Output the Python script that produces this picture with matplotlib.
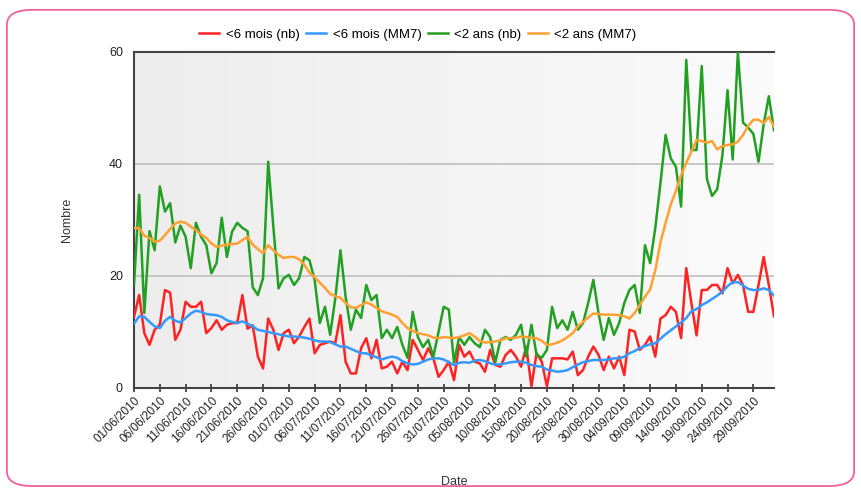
import numpy as np
import pandas as pd
import matplotlib
matplotlib.use("Agg")
import matplotlib.pyplot as plt
from matplotlib.patches import FancyBboxPatch
from matplotlib.colors import LinearSegmentedColormap

plt.rcParams['font.family'] = ['Liberation Sans', 'DejaVu Sans']

# daily series, 01/06/2010 -> 03/10/2010
dates = pd.date_range("2010-06-01", "2010-10-03", freq="D")

moins6_nb = [
    12.7, 16.6, 9.8, 7.7, 10.4, 11.3, 17.5, 17, 8.6, 10.4, 15.4, 14.5, 14.5, 15.4, 9.8, 10.7, 12.1, 10.4, 11.3, 11.6,
    11.6, 16.6, 10.6, 11.2, 5.6, 3.5, 12.4, 10.4, 6.8, 9.8, 10.4, 8, 9.2, 10.9, 12.4, 6.2, 7.7, 8, 8.3, 8, 13, 4.7,
    2.6, 2.6, 7.1, 8.9, 5.3, 8.6, 3.5, 3.8, 4.7, 2.6, 4.7, 3.2, 8.6, 6.8, 5, 7.1, 5.3, 2, 3.2, 4.7, 1.4,
    7.7, 5.6, 6.5, 4.7, 4.4, 2.9, 6.8, 4.1, 3.8, 5.9, 6.8, 5.6, 3.8, 7.4, 0.3, 6.2, 4.7, 0.3, 5.3, 5.3,
    5.3, 5.1, 6.5, 2.3, 3.2, 5.6, 7.4, 5.9, 3.2, 5.6, 3.5, 5.6, 2.3, 10.4, 10.1, 6.8, 7.7, 9.2, 5.6, 12.4, 13,
    14.5, 13.6, 8.9, 21.4, 15.1, 9.4, 17.5, 17.5, 18.4, 18.4, 16.9, 21.4, 18.7, 20.2, 18.4, 13.6, 13.6, 18.4,
    23.4, 18.4, 12.8,
]

moins6_mm7 = [
    11.5, 12.8, 12.7, 11.8, 11, 10.7, 12, 12.7, 12, 11.7, 12.5, 13.3, 13.8, 13.6, 13.2, 13.1, 13, 12.7, 12.1, 11.8,
    11.6, 11.9, 11.5, 11, 10.4, 10.2, 10.0, 9.8, 9.6, 9.4, 9.2, 9.2, 9.1, 9.0, 8.8, 8.5, 8.3, 8.3, 8.2, 7.8, 7.4,
    7.4, 7.0, 6.6, 6.2, 6.2, 5.8, 5.5, 5.1, 5.4, 5.6, 5.4, 4.8, 4.4, 4.2, 4.3, 4.7, 5.1, 5.3, 5.3, 5.1, 4.6,
    4.1, 4.5, 4.6, 4.5, 4.9, 5.0, 4.8, 4.4, 4.2, 4.2, 4.4, 4.6, 4.7, 4.7, 4.5, 4.1, 3.9, 3.8, 3.3, 3.1, 2.9,
    3.0, 3.2, 3.7, 4.2, 4.6, 4.8, 5.0, 5.0, 5.0, 5.1, 5.3, 5.3, 5.6, 6.2, 6.6, 7.1, 7.5, 7.8, 8.0, 8.8, 9.6,
    10.3, 11.0, 11.7, 12.5, 13.7, 14.1, 14.8, 15.3, 15.9, 16.5, 17.2, 18.2, 18.9, 18.9, 18.3, 17.7, 17.5, 17.5,
    17.8, 17.5, 16.5,
]

moins2_nb = [
    18.4, 34.5, 13.4, 28, 24.6, 36, 31.5, 33, 26, 29, 27, 21.4, 29.5, 27, 25.5, 20.5, 22.3, 30.4, 23.4, 27.9,
    29.5, 28.6, 28, 18, 16.6, 19.6, 40.4, 28.8, 17.8, 19.6, 20.2, 18.4, 19.6, 23.4, 22.8, 19.3, 11.6, 14.5, 9.5,
    16, 24.6, 16.3,
    10.4, 14, 12.5, 18.4, 15.7, 16.6, 8.9, 10.4, 8.9, 10.9, 7.7, 5.4, 13.6, 9.1, 7.3, 8.6, 5.6, 10, 14.5, 14, 4.6,
    9.1, 7.7, 9.1, 8, 7.3, 10.4, 9.1, 4.6, 8.6, 9.1, 8.6, 9.5, 11.3, 5.6, 11.3, 5.9, 5.4, 6.8, 14.5, 10.7,
    12.1, 10.4, 13.6, 10.4, 11.6, 15.2, 19.3, 13.4, 8.6, 12.5, 9.5, 11.6, 15.2, 17.5, 18.4, 13.4, 25.5, 22.3,
    28.6, 36.6, 45.2, 41, 39.5, 32.4, 58.6, 42.5, 42.5, 57.5, 37.3, 34.3, 35.5, 41.5, 53.2, 40.8, 60, 47.4,
    46.5, 45.4, 40.4, 47.1, 52.1, 46,
]

moins2_mm7 = [
    28.6, 28.5, 27.2, 26.8, 26.1, 26.3, 27.3, 28.4, 29.4, 29.7, 29.5, 28.8, 28.2, 27.4, 26.8, 25.8, 25.2, 25.4,
    25.6, 25.7, 25.8, 26.4, 27.0, 25.6, 24.8, 24.1, 25.5, 24.6, 23.8, 23.2, 23.4, 23.4, 23.0, 22.0, 20.6, 19.8,
    18.8, 17.9, 16.8, 16.4, 16.1, 15.2, 14.4, 14.3, 14.8, 15.3, 14.9, 14.3, 13.7, 13.4, 13.1, 12.7, 11.6, 10.7,
    10.2, 9.8, 9.6, 9.4, 9.0, 8.9, 9.1, 9.0, 8.9, 9.1, 9.4, 9.8, 9.2, 8.4, 8.1, 8.2, 8.3, 8.5, 8.9, 8.9, 9.0,
    9.2, 9.1, 8.9, 8.9, 8.4, 7.7, 7.8, 8.1, 8.5, 9.1, 9.8, 11.0, 11.8, 12.6, 13.3, 13.2, 13.1, 13.1, 13.1, 13.0,
    12.8, 12.4, 13.4, 14.8, 16.3, 17.6, 21.0, 26.0, 29.5, 32.8, 35.2, 38.0, 40.2, 42.2, 44.3, 44.1, 43.8, 44.1,
    42.6, 43.2, 43.4, 43.5, 44.0, 45.2, 46.8, 47.9, 47.9, 47.3, 48.4, 46.7,
]

tick_dates = pd.date_range("2010-06-01", "2010-09-29", freq="5D")

fig = plt.figure(figsize=(8.61, 4.92), dpi=100)
ax = fig.add_axes([134 / 861, 1 - 388 / 492, 640 / 861, 336 / 492])

# pink rounded frame round the whole picture
frame = FancyBboxPatch((0.008, 0.012), 0.984, 0.968, boxstyle="round,pad=0,rounding_size=0.03",
                       transform=fig.transFigure, fill=False, edgecolor="#f0609a", linewidth=1.3)
fig.patches.append(frame)

# grey gradient background
grad = np.linspace(0, 1, 256).reshape(1, -1)
cmap = LinearSegmentedColormap.from_list("g", ["#ededed", "#fbfbfb"])
ax.imshow(grad, extent=[dates[0], dates[-1], 0, 60], aspect="auto", cmap=cmap, zorder=0)

ax.plot(dates, moins6_nb, color="#ff2222", lw=1.8, label="<6 mois (nb)", zorder=3)
ax.plot(dates, moins6_mm7, color="#3399ff", lw=1.8, label="<6 mois (MM7)", zorder=3)
ax.plot(dates, moins2_nb, color="#22a022", lw=1.8, label="<2 ans (nb)", zorder=3)
ax.plot(dates, moins2_mm7, color="#ffa030", lw=1.8, label="<2 ans (MM7)", zorder=3)

ax.set_xlim(dates[0], dates[-1])
ax.set_ylim(0, 60)
ax.set_yticks([0, 20, 40, 60])
ax.set_xticks(tick_dates)
ax.set_xticklabels([d.strftime("%d/%m/%Y") for d in tick_dates], rotation=45, ha="right",
                   rotation_mode="anchor", fontsize=8.5, color="#222222")
ax.tick_params(axis="y", length=0, labelsize=9, colors="#222222", pad=8)
ax.tick_params(axis="x", direction="inout", length=6, width=1.2, color="#333333", pad=2)
ax.grid(axis="y", color="#c0c0c0", lw=1.2)
ax.set_axisbelow(True)

for s in ["left", "bottom", "top"]:
    ax.spines[s].set_color("#444444")
    ax.spines[s].set_linewidth(1.5)
ax.spines["right"].set_visible(False)

ax.set_ylabel("Nombre", fontsize=9, color="#333333", labelpad=26)
ax.set_xlabel("Date", fontsize=9, color="#333333", labelpad=22)

fig.legend(loc="center", bbox_to_anchor=(418 / 861, 1 - 35 / 492), ncol=4, frameon=False,
           fontsize=9.5, handlelength=1.5, handletextpad=0.5, columnspacing=0.5)

fig.savefig("out.png", dpi=100)
